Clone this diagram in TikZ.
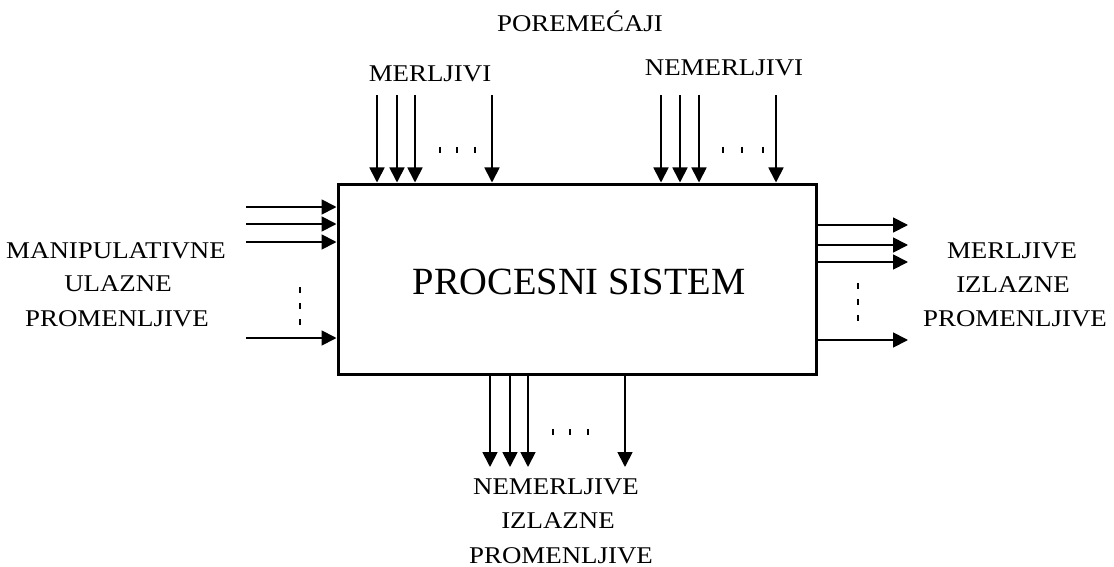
\documentclass[tikz,border=0pt]{standalone}
\usepackage{fontspec}
\setmainfont{Liberation Serif}
\newfontfamily\smallfam{Liberation Serif}[FakeStretch=1.12]
\usetikzlibrary{arrows.meta}
\begin{document}
\begin{tikzpicture}[x=1pt,y=-1pt,
  lbl/.style={font=\smallfam\fontsize{24}{28}\selectfont, anchor=base, inner sep=0pt},
  arr/.style={line width=1.8pt, -{Triangle[length=15pt,width=15pt]}},
  tick/.style={line width=2pt},
  vdash/.style={line width=2pt, dash pattern=on 6pt off 10pt}]
\useasboundingbox (0,0) rectangle (1114,567);
% main box
\node (box) [draw, line width=3pt, minimum width=478pt, minimum height=190pt, inner sep=0pt] at (577,279) {};
\node (title) [font=\fontsize{38.5}{42}\selectfont, anchor=base, inner sep=0pt] at (579,294) {PROCESNI SISTEM};
% top labels
\node (por) [lbl] at (580,32) {POREMEĆAJI};
\node (mer) [lbl] at (430,82) {MERLJIVI};
\node (nem) [lbl] at (724,76) {NEMERLJIVI};
% top arrows
\foreach \n/\x in {t1/377,t2/397,t3/415,t4/492,t5/661,t6/680,t7/699,t8/776}{
  \coordinate (\n) at (\x,95);
  \draw[arr] (\n) -- (\n |- box.north);
}
\foreach \x in {440,457,475,723,742,763}{
  \draw[tick] (\x,147) -- (\x,153);
}
% left arrows
\foreach \n/\y in {l1/207,l2/224,l3/242,l4/338}{
  \coordinate (\n) at (246,\y);
  \draw[arr] (\n) -- (\n -| box.west);
}
\coordinate (ld1) at (300,287);
\coordinate (ld2) at (300,328);
\draw[vdash] (ld1) -- (ld2);
\node (lt1) [lbl] at (116,258) {MANIPULATIVNE};
\node (lt2) [lbl] at (118,291) {ULAZNE};
\node (lt3) [lbl] at (117,326) {PROMENLJIVE};
% right arrows
\foreach \n/\y in {r1/225,r2/245,r3/262,r4/340}{
  \coordinate (\n) at (908,\y);
  \draw[arr] (\n -| box.east) -- (\n);
}
\coordinate (rd1) at (858,283);
\coordinate (rd2) at (858,324);
\draw[vdash] (rd1) -- (rd2);
\node (rt1) [lbl] at (1012,258) {MERLJIVE};
\node (rt2) [lbl] at (1013,292) {IZLAZNE};
\node (rt3) [lbl] at (1015,326) {PROMENLJIVE};
% bottom arrows
\foreach \n/\x in {b1/490,b2/510,b3/528,b4/625}{
  \coordinate (\n) at (\x,467);
  \draw[arr] (\n |- box.south) -- (\n);
}
\foreach \x in {553,570,588}{
  \draw[tick] (\x,429) -- (\x,435);
}
\node (bt1) [lbl] at (556,494) {NEMERLJIVE};
\node (bt2) [lbl] at (558,528) {IZLAZNE};
\node (bt3) [lbl] at (561,563) {PROMENLJIVE};
\end{tikzpicture}
\end{document}
